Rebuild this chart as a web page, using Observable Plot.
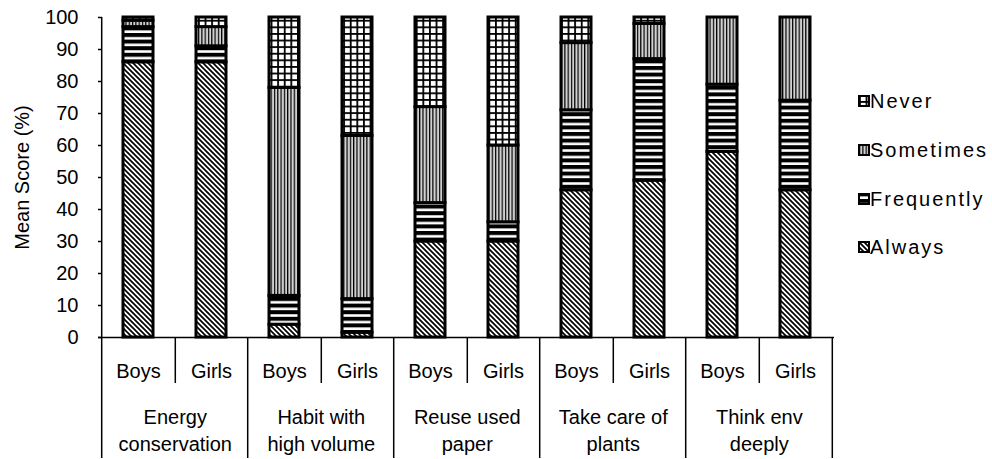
<!DOCTYPE html>
<html><head><meta charset="utf-8">
<script src="https://cdn.jsdelivr.net/npm/d3@7"></script>
<script src="https://cdn.jsdelivr.net/npm/@observablehq/plot@0.6"></script>
<style>
body{margin:0;background:#fff;}
#wrap{position:relative;width:992px;height:459px;font-family:"Liberation Sans",Arial,sans-serif;}
#legend{position:absolute;left:0;top:0;}
</style></head><body>
<svg width="0" height="0" style="position:absolute">
<defs>
<pattern id="pat-Always" patternUnits="userSpaceOnUse" width="5" height="5">
<rect width="5" height="5" fill="#fff"/>
<path d="M0,0L5,5M-1,4L1,6M4,-1L6,1" stroke="#000" stroke-width="1.7"/>
</pattern>
<pattern id="pat-Frequently" patternUnits="userSpaceOnUse" width="6.6" height="6.6">
<rect width="6.6" height="6.6" fill="#fff"/>
<rect y="0" width="6.6" height="4" fill="#000"/>
</pattern>
<pattern id="pat-Sometimes" patternUnits="userSpaceOnUse" width="3.3" height="3.3">
<rect width="3.3" height="3.3" fill="#d0d0d0"/>
<rect x="0" width="1.2" height="3.3" fill="#000"/>
</pattern>
<pattern id="pat-Never" patternUnits="userSpaceOnUse" width="6.6" height="6.6">
<rect width="6.6" height="6.6" fill="#fff"/>
<rect x="0" width="1.8" height="6.6" fill="#000"/>
<rect y="0" width="6.6" height="1.8" fill="#000"/>
</pattern>
</defs></svg>
<div id="wrap"><div id="chart"></div><svg id="legend" width="992" height="459"></svg></div>
<script>
const groups = ["Energy conservation", "Habit with high volume", "Reuse used paper", "Take care of plants", "Think env deeply"];
const groupLabels = ["Energy\nconservation", "Habit with\nhigh volume", "Reuse used\npaper", "Take care of\nplants", "Think env\ndeeply"];
const genders = ["Boys", "Girls"];
const series = ["Always", "Frequently", "Sometimes", "Never"];
const legendOrder = ["Never", "Sometimes", "Frequently", "Always"];
const yTicks = [0, 10, 20, 30, 40, 50, 60, 70, 80, 90, 100];

// order of bars: Energy Boys, Energy Girls, Habit Boys, ...
const always     = [86, 86,  4, 1.5, 30, 30, 46, 49, 58, 46];
const frequently = [11,  5,  9, 10.5, 12,  6, 25, 38, 21, 28];
const sometimes  = [ 2,  6, 65, 51, 30, 24, 21, 11, 21, 26];
const never      = [ 1,  3, 22, 37, 28, 40,  8,  2,  0,  0];

const seriesValues = [always, frequently, sometimes, never];
const keys = groups.flatMap(g => genders.map(s => g + "|" + s));
const data = series.flatMap((s, si) => keys.map((k, i) => ({key: k, series: s, value: seriesValues[si][i]})));

const W = 992, H = 459, mL = 98, mR = 158, mT = 17, mB = 122;
const step = (W - mL - mR) / keys.length;
const frameH = H - mT - mB;
const font = '"Liberation Sans", Arial, sans-serif';

const boysKeys = groups.map(g => g + "|Boys");
const lastKey = keys[keys.length - 1];

const plot = Plot.plot({
  width: W, height: H,
  marginLeft: mL, marginRight: mR, marginTop: mT, marginBottom: mB,
  style: {fontFamily: font, fontSize: "20px", color: "#000", background: "#fff", overflow: "visible"},
  x: {domain: keys, paddingInner: 0.59, paddingOuter: 0.295},
  y: {domain: [0, 100]},
  color: {domain: series, range: series.map(s => `url(#pat-${s})`)},
  marks: [
    Plot.barY(data, {x: "key", y: "value", fill: "series", order: series, stroke: "#000", strokeWidth: 3}),
    Plot.ruleY([0], {stroke: "#000", strokeWidth: 1.5}),
    // y axis line (left edge) extending down through the label table
    Plot.ruleX([keys[0]], {x: d => d, dx: -step / 2, insetBottom: -121, stroke: "#000", strokeWidth: 1.5}),
    // group boundaries below the axis
    Plot.ruleX(boysKeys.slice(1), {x: d => d, dx: -step / 2, insetTop: frameH, insetBottom: -121, stroke: "#000", strokeWidth: 1.5}),
    Plot.ruleX([lastKey], {x: d => d, dx: step / 2, insetTop: frameH, insetBottom: -121, stroke: "#000", strokeWidth: 1.5}),
    // Boys/Girls dividers
    Plot.ruleX(boysKeys, {x: d => d, dx: step / 2, insetTop: frameH, insetBottom: -46, stroke: "#000", strokeWidth: 1.5}),
    Plot.axisY({ticks: yTicks, tickSize: 0, tickPadding: 20, label: null, fontSize: 20}),
    Plot.axisY({ticks: yTicks, tickSize: 4, dx: 4, text: null, label: null, stroke: "#000", strokeWidth: 1.5}),
    Plot.axisX({tickSize: 0, tickPadding: 26, label: null, tickFormat: d => d.split("|")[1], fontSize: 20, style: {letterSpacing: "0.6px"}}),
    Plot.text(boysKeys, {x: d => d, text: (d, i) => groupLabels[i], frameAnchor: "bottom", lineAnchor: "top", dx: step / 2, dy: 67, lineHeight: 1.35, fontSize: 20, style: {letterSpacing: "0.5px"}}),
    Plot.text(["Mean Score (%)"], {frameAnchor: "left", textAnchor: "middle", dx: -76, rotate: -90, fontSize: 20, style: {letterSpacing: "1.5px"}})
  ]
});
document.getElementById("chart").appendChild(plot);

// legend
const leg = d3.select("#legend");
const legY = [101, 150, 199, 247];
legendOrder.forEach((s, i) => {
  const g = leg.append("g").attr("transform", `translate(859,${legY[i]})`);
  g.append("rect").attr("x", 0).attr("y", -5).attr("width", 10).attr("height", 10)
    .attr("fill", `url(#pat-${s})`).attr("stroke", "#000").attr("stroke-width", 2);
  g.append("text").attr("x", 11).attr("y", 0).attr("dy", "0.35em")
    .attr("font-family", font).attr("font-size", 20).attr("letter-spacing", "2px")
    .attr("fill", "#000").text(s);
});
</script>
</body></html>
